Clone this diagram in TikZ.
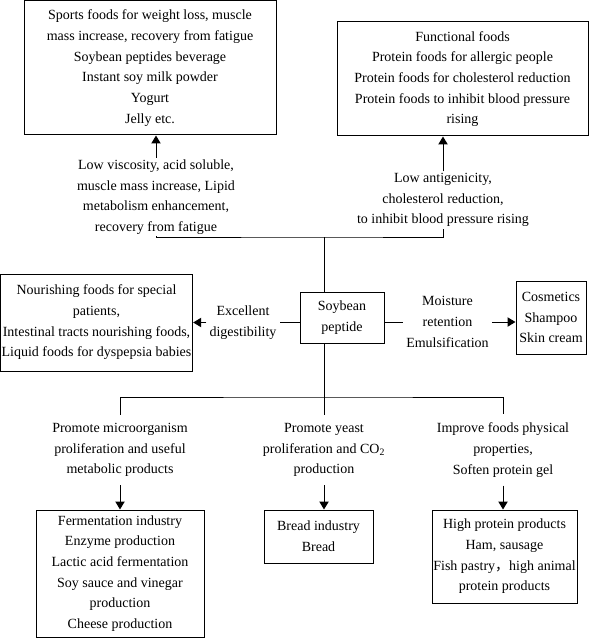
\documentclass[tikz,border=0pt]{standalone}
\usepackage{fontspec}
\setmainfont{Liberation Serif}
\newfontfamily\cjk{Noto Sans CJK SC}
\usetikzlibrary{arrows.meta}

\begin{document}
\begin{tikzpicture}[x=0.75pt, y=-0.75pt,
    font=\fontsize{10.5pt}{15.5pt}\selectfont, line width=0.75pt,
    foodbox/.style={draw, align=center, inner sep=1pt},
    effect/.style={align=center, inner sep=1pt},
    arrowline/.style={-{Triangle[length=6pt, width=7pt]}}]
    \useasboundingbox (0,0) rectangle (591,638);

    \node [foodbox, minimum width=63pt, minimum height=38.25pt] (soy) at (342,317.5) {Soybean\\peptide};

    \node [foodbox, minimum width=189pt, minimum height=100.5pt] (sports) at (150,68)
        {Sports foods for weight loss, muscle\\mass increase, recovery from fatigue\\Soybean peptides beverage\\Instant soy milk powder\\Yogurt\\Jelly etc.};
    \node [foodbox, minimum width=188.25pt, minimum height=85.5pt] (functional) at (462.5,79)
        {Functional foods\\Protein foods for allergic people\\Protein foods for cholesterol reduction\\Protein foods to inhibit blood pressure\\rising};
    \node [foodbox, minimum width=143.25pt, minimum height=72.75pt] (nourish) at (96.5,322.5)
        {Nourishing foods for special\\patients,\\Intestinal tracts nourishing foods,\\Liquid foods for dyspepsia babies};
    \node [foodbox, minimum width=52.5pt, minimum height=54.75pt] (cosmetic) at (551,317.5)
        {Cosmetics\\Shampoo\\Skin cream};
    \node [foodbox, minimum width=126pt, minimum height=95.25pt] (ferment) at (120,573.5)
        {Fermentation industry\\Enzyme production\\Lactic acid fermentation\\Soy sauce and vinegar\\production\\Cheese production};
    \node [foodbox, minimum width=81.75pt, minimum height=39.75pt] (bread) at (318.5,536.5)
        {Bread industry\\Bread};
    \node [foodbox, minimum width=108.75pt, minimum height=69.75pt] (protein) at (504.5,556.5)
        {High protein products\\Ham, sausage\\Fish pastry{\cjk ，}high animal\\protein products};

    \node [effect] (viscosity) at (156,197) {Low viscosity, acid soluble,\\muscle mass increase, Lipid\\metabolism enhancement,\\recovery from fatigue};
    \node [effect] (antigen) at (443,200) {Low antigenicity,\\cholesterol reduction,\\to inhibit blood pressure rising};
    \node [effect, inner xsep=2pt] (digest) at (243,322.5) {Excellent\\digestibility};
    \node [effect, inner xsep=2pt] (moisture) at (447.5,322) {Moisture\\retention\\Emulsification};
    \node [effect, inner ysep=6pt] (microbe) at (120,450) {Promote microorganism\\proliferation and useful\\metabolic products};
    \node [effect, inner ysep=6pt] (yeast) at (324,450) {Promote yeast\\proliferation and CO\textsubscript{2}\\production};
    \node [effect, inner ysep=6pt] (physical) at (503,450) {Improve foods physical\\properties,\\Soften protein gel};

    \coordinate (upper) at (324,237);
    \coordinate (lower) at (324,397);

    \draw (soy.north -| upper) -- (upper);
    \draw (viscosity.south) |- (upper) -| (antigen.south);
    \draw [arrowline] (viscosity.north) -- (sports.south -| viscosity);
    \draw [arrowline] (antigen.north) -- (functional.south -| antigen);

    \draw (soy.west |- digest) -- (digest.east);
    \draw [arrowline] (digest.west) -- (nourish.east |- digest);
    \draw (soy.east |- moisture) -- (moisture.west);
    \draw [arrowline] (moisture.east) -- (cosmetic.west |- moisture);

    \draw (soy.south -| lower) -- (lower);
    \draw (microbe.north) |- (lower) -| (physical.north);
    \draw (lower) -- (yeast.north);
    \draw [arrowline] (microbe.south) -- (ferment.north);
    \draw [arrowline] (yeast.south) -- (bread.north -| yeast);
    \draw [arrowline] (physical.south) -- (protein.north -| physical);
\end{tikzpicture}
\end{document}
